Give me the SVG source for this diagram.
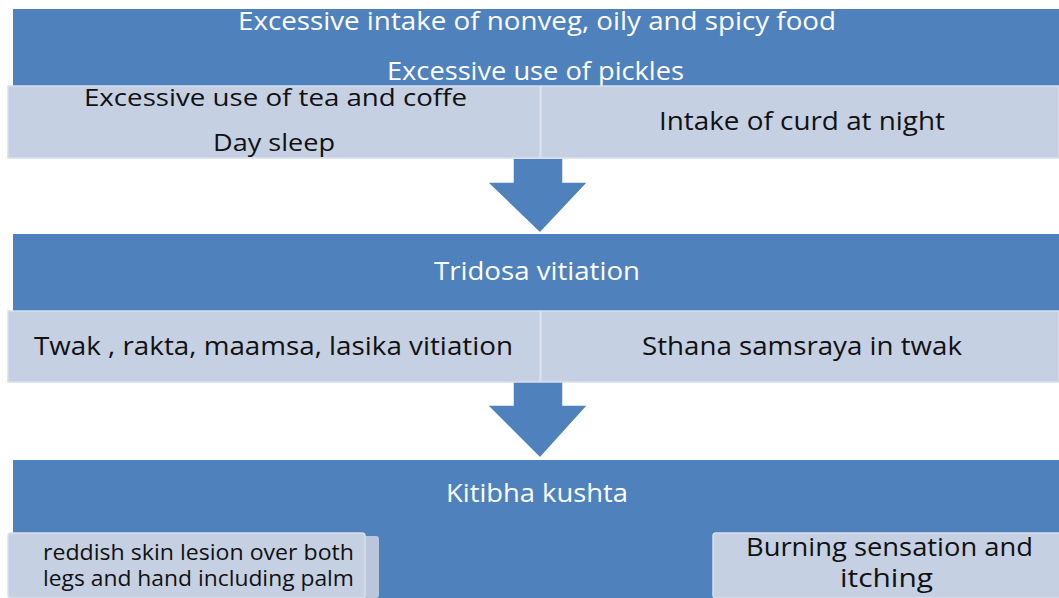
<svg xmlns="http://www.w3.org/2000/svg" width="1059" height="598" viewBox="0 0 1059 598">
<style>
.blue{fill:#4F81BD;}
.light{fill:#C5D0E3;stroke:#D9E0EC;stroke-width:1.5;}
.back{fill:#B9C6DC;}
.arrow{fill:#4F81BD;stroke:#FFFFFF;stroke-width:1.5;stroke-linejoin:miter;}
text{font-family:"Open Sans","Noto Sans","Liberation Sans",sans-serif;text-anchor:start;}
.w{fill:#FFFFFF;}
.k{fill:#111111;}
</style>
<rect width="1059" height="598" fill="#FFFFFF"/>
<g id="connectors">
  <polygon class="arrow" points="513,158 563,158 563,182 588,182 540,233 487,182 513,182"/>
  <polygon class="arrow" points="513,381 563,381 563,405 588,405 540,458 487,405 513,405"/>
</g>
<g id="node-causes">
  <rect class="blue" x="13" y="9" width="1046" height="77"/>
  <text class="w" x="238" y="30" font-size="25" textLength="598" lengthAdjust="spacingAndGlyphs">Excessive intake of nonveg, oily and spicy food</text>
  <text class="w" x="387" y="80" font-size="25" textLength="297" lengthAdjust="spacingAndGlyphs">Excessive use of pickles</text>
</g>
<g id="node-tea">
  <rect class="light" x="8" y="86" width="532" height="72"/>
  <text class="k" x="84" y="106" font-size="23" textLength="383" lengthAdjust="spacingAndGlyphs">Excessive use of tea and coffe</text>
  <text class="k" x="213" y="151" font-size="23" textLength="122" lengthAdjust="spacingAndGlyphs">Day sleep</text>
</g>
<g id="node-curd">
  <rect class="light" x="541" y="86" width="518" height="72"/>
  <text class="k" x="659" y="130" font-size="25" textLength="286" lengthAdjust="spacingAndGlyphs">Intake of curd at night</text>
</g>
<g id="node-tridosa">
  <rect class="blue" x="13" y="234" width="1046" height="77"/>
  <text class="w" x="434" y="280" font-size="25" textLength="206" lengthAdjust="spacingAndGlyphs">Tridosa vitiation</text>
</g>
<g id="node-twak">
  <rect class="light" x="8" y="311" width="532" height="71"/>
  <text class="k" x="34" y="355" font-size="25" textLength="479" lengthAdjust="spacingAndGlyphs">Twak , rakta, maamsa, lasika vitiation</text>
</g>
<g id="node-sthana">
  <rect class="light" x="541" y="311" width="518" height="71"/>
  <text class="k" x="642" y="355" font-size="25" textLength="320" lengthAdjust="spacingAndGlyphs">Sthana samsraya in twak</text>
</g>
<g id="node-kitibha">
  <rect class="blue" x="13" y="460" width="1046" height="138"/>
  <text class="w" x="446" y="502" font-size="25" textLength="182" lengthAdjust="spacingAndGlyphs">Kitibha kushta</text>
</g>
<g id="node-lesion">
  <rect class="back" x="20" y="536" width="359" height="62" rx="3"/>
  <rect class="light" x="8" y="533" width="357" height="65" rx="3"/>
  <text class="k" x="43" y="560" font-size="21" textLength="311" lengthAdjust="spacingAndGlyphs">reddish skin lesion over both</text>
  <text class="k" x="43" y="586" font-size="21" textLength="311" lengthAdjust="spacingAndGlyphs">legs and hand including palm</text>
</g>
<g id="node-burning">
  <rect class="light" x="713" y="533" width="350" height="65" rx="3"/>
  <text class="k" x="746" y="556" font-size="25" textLength="287" lengthAdjust="spacingAndGlyphs">Burning sensation and</text>
  <text class="k" x="840" y="587" font-size="25" textLength="93" lengthAdjust="spacingAndGlyphs">itching</text>
</g>
</svg>
